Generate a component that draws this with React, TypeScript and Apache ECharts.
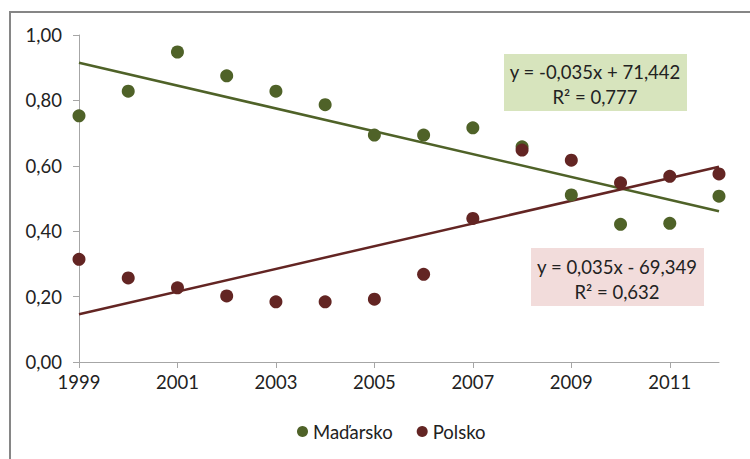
import React, { useEffect, useRef } from "react";
import * as echarts from "echarts";

const years = ["1999","2000","2001","2002","2003","2004","2005","2006","2007","2008","2009","2010","2011","2012"];
const madarsko = [0.753, 0.828, 0.948, 0.875, 0.828, 0.787, 0.694, 0.694, 0.716, 0.658, 0.511, 0.421, 0.424, 0.507];
const polsko = [0.314, 0.257, 0.227, 0.202, 0.184, 0.184, 0.192, 0.268, 0.439, 0.648, 0.617, 0.548, 0.568, 0.575];
const trendMadarsko = [["1999", 0.915], ["2012", 0.461]];
const trendPolsko = [["1999", 0.146], ["2012", 0.597]];
const eqMadarsko = "y = -0,035x + 71,442\nR² = 0,777";
const eqPolsko = "y = 0,035x - 69,349\nR² = 0,632";

const GREEN = "#4F6228";
const RED = "#632523";
const FONT = "Lato, 'Open Sans', sans-serif";
const FS = 18.5;

export default function App() {
  const ref = useRef<HTMLDivElement>(null);
  useEffect(() => {
    document.body.style.margin = "0";
    const chart = echarts.init(ref.current!, null, { renderer: "svg" });
    chart.setOption({
      animation: false,
      textStyle: { fontFamily: FONT },
      grid: { left: 79, top: 35, right: 31, bottom: 97, containLabel: false },
      xAxis: {
        type: "category",
        data: years,
        boundaryGap: false,
        axisLine: { lineStyle: { color: "#A6A6A6", width: 1 } },
        axisTick: { show: true, interval: 1, length: 6, lineStyle: { color: "#A6A6A6" } },
        axisLabel: { interval: 1, color: "#222", fontSize: FS, margin: 10, fontFamily: FONT },
        splitLine: { show: false },
      },
      yAxis: {
        type: "value",
        min: 0,
        max: 1,
        interval: 0.2,
        axisLine: { show: true, lineStyle: { color: "#A6A6A6", width: 1 } },
        axisTick: { show: true, length: 6, lineStyle: { color: "#A6A6A6" } },
        axisLabel: {
          color: "#222",
          fontSize: FS,
          margin: 17,
          fontFamily: FONT,
          formatter: (v: number) => v.toFixed(2).replace(".", ","),
        },
        splitLine: { show: false },
      },
      legend: {
        data: ["Maďarsko", "Polsko"],
        bottom: 13,
        left: 292,
        icon: "circle",
        itemWidth: 11,
        itemHeight: 11,
        itemGap: 24,
        textStyle: { fontSize: FS, color: "#222", fontFamily: FONT },
      },
      series: [
        {
          name: "trendM",
          type: "line",
          data: trendMadarsko,
          symbol: "none",
          lineStyle: { color: GREEN, width: 2.5 },
          z: 1,
        },
        {
          name: "trendP",
          type: "line",
          data: trendPolsko,
          symbol: "none",
          lineStyle: { color: RED, width: 2.5 },
          z: 1,
        },
        {
          name: "Maďarsko",
          type: "scatter",
          data: madarsko,
          symbolSize: 13,
          itemStyle: { color: GREEN, opacity: 1 },
          z: 3,
        },
        {
          name: "Polsko",
          type: "scatter",
          data: polsko,
          symbolSize: 13,
          itemStyle: { color: RED, opacity: 1 },
          z: 4,
        },
      ],
      graphic: [
        {
          type: "rect",
          shape: { x: 10, y: 12, width: 760, height: 470 },
          style: { fill: "none", stroke: "#868686", lineWidth: 2 },
          z: 0,
        },
        {
          type: "rect",
          shape: { x: 504, y: 54, width: 183, height: 57 },
          style: { fill: "#D7E4BD" },
          z: 5,
        },
        {
          type: "text",
          x: 595,
          y: 84,
          style: {
            text: eqMadarsko,
            fill: "#222",
            font: `${FS}px ${FONT}`,
            align: "center",
            verticalAlign: "middle",
            lineHeight: 25,
          },
          z: 6,
        },
        {
          type: "rect",
          shape: { x: 531, y: 248, width: 173, height: 58 },
          style: { fill: "#F2DCDB" },
          z: 5,
        },
        {
          type: "text",
          x: 617,
          y: 279,
          style: {
            text: eqPolsko,
            fill: "#222",
            font: `${FS}px ${FONT}`,
            align: "center",
            verticalAlign: "middle",
            lineHeight: 25,
          },
          z: 6,
        },
      ],
    });
    return () => chart.dispose();
  }, []);
  return <div ref={ref} style={{ width: 750, height: 459, position: "absolute", left: 0, top: 0 }} />;
}
